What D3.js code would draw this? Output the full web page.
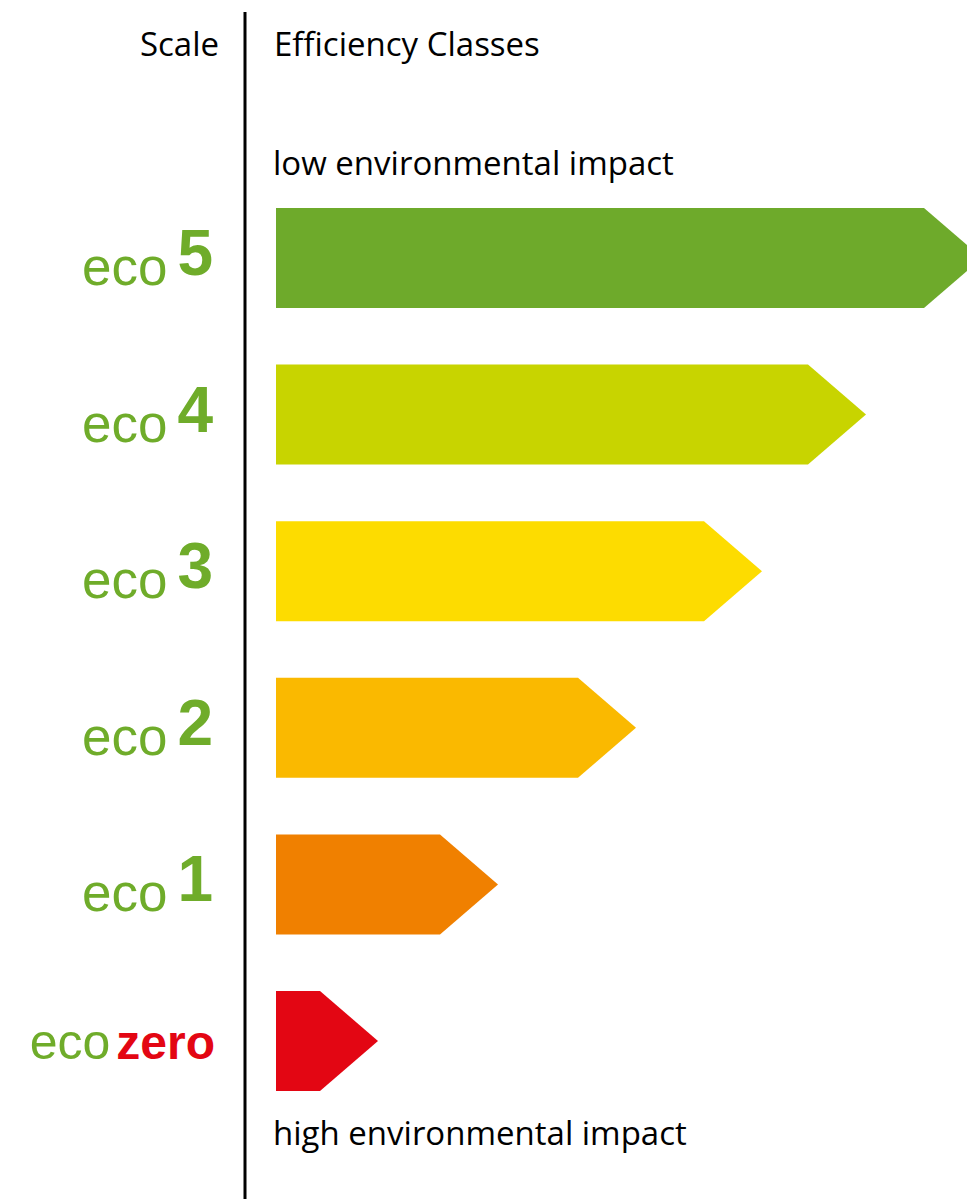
<!DOCTYPE html>
<html>
<head>
<meta charset="utf-8">
<script src="https://cdn.jsdelivr.net/npm/d3@7"></script>
<style>
  html, body { margin: 0; padding: 0; background: #fff; }
  svg { display: block; }
</style>
</head>
<body>
<div id="chart"></div>
<script>
// efficiency classes, top (best) to bottom (worst)
const classes = ["5", "4", "3", "2", "1", "zero"];
// bar length incl. arrow tip (px-like units)
const lengths = [706, 590, 486, 360, 222, 102];
const colors = ["#6eaa2b", "#c8d400", "#fddc00", "#fab900", "#f08000", "#e30613"];

const width = 967, height = 1199;
const barH = 100, tip = 58;

const svg = d3.select("#chart")
    .append("svg")
    .attr("width", width)
    .attr("height", height);

const x = d3.scaleLinear()
    .domain([0, d3.max(lengths)])
    .range([276, 276 + d3.max(lengths)]);

const y = d3.scalePoint()
    .domain(classes)
    .range([258, 1041]);

// divider line
svg.append("line")
    .attr("x1", 245).attr("x2", 245)
    .attr("y1", 12).attr("y2", height)
    .attr("stroke", "#000")
    .attr("stroke-width", 3);

const headFont = "'Open Sans', 'Noto Sans', sans-serif";

svg.append("text")
    .attr("x", 219).attr("y", 56)
    .attr("text-anchor", "end")
    .style("font-family", headFont)
    .style("font-size", "33px")
    .text("Scale");

svg.append("text")
    .attr("x", 274).attr("y", 56)
    .style("font-family", headFont)
    .style("font-size", "33px")
    .text("Efficiency Classes");

svg.append("text")
    .attr("x", 273).attr("y", 175)
    .style("font-family", headFont)
    .style("font-size", "33px")
    .text("low environmental impact");

svg.append("text")
    .attr("x", 273).attr("y", 1145)
    .style("font-family", headFont)
    .style("font-size", "33px")
    .text("high environmental impact");

// arrow bars
const data = classes.map((c, i) => ({ cls: c, len: lengths[i], color: colors[i] }));

svg.selectAll("path.bar")
    .data(data)
    .enter()
    .append("path")
    .attr("class", "bar")
    .attr("fill", d => d.color)
    .attr("d", function (d) {
        const x0 = x(0), x1 = x(d.len);
        const cy = y(d.cls), t = cy - barH / 2, b = cy + barH / 2;
        return `M${x0},${t}L${x1 - tip},${t}L${x1},${cy}L${x1 - tip},${b}L${x0},${b}Z`;
    });

// labels on the left
const labels = svg.selectAll("text.lbl")
    .data(data)
    .enter()
    .append("text")
    .attr("class", "lbl")
    .attr("text-anchor", "end")
    .attr("x", d => d.cls === "zero" ? 215 : 213)
    .attr("y", d => y(d.cls) + (d.cls === "zero" ? 18 : 27))
    .style("font-family", "'Liberation Sans', Arial, sans-serif");

labels.append("tspan")
    .attr("fill", "#6fac2a")
    .style("font-size", d => d.cls === "zero" ? "50px" : "53px")
    .text("eco");

labels.append("tspan")
    .attr("fill", d => d.cls === "zero" ? "#e30613" : "#6fac2a")
    .attr("dx", d => d.cls === "zero" ? 6 : 10)
    .attr("dy", d => d.cls === "zero" ? 0 : -10)
    .style("font-weight", "bold")
    .style("font-size", d => d.cls === "zero" ? "48px" : "64px")
    .text(d => d.cls);
</script>
</body>
</html>
